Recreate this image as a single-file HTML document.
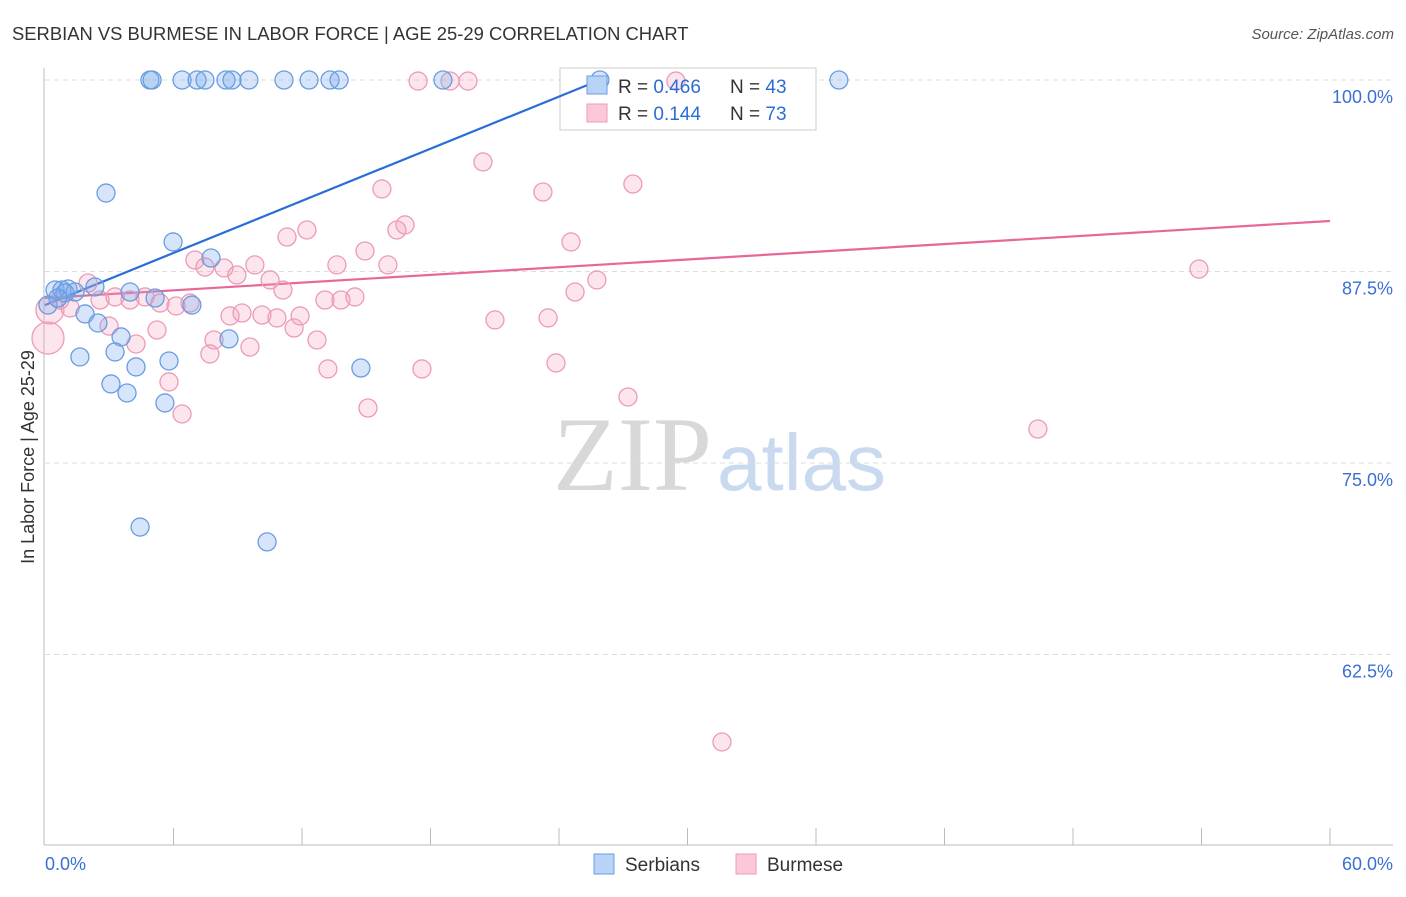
<!DOCTYPE html>
<html><head><meta charset="utf-8"><style>
body{margin:0;background:#fff;font-family:"Liberation Sans",sans-serif;}
svg text{font-family:"Liberation Sans",sans-serif;}
</style></head><body>
<svg id="chart" width="1406" height="892">
<text x="12" y="40" font-size="18.4" fill="#333">SERBIAN VS BURMESE IN LABOR FORCE | AGE 25-29 CORRELATION CHART</text>
<text x="1394" y="39" font-size="15" fill="#555" text-anchor="end" font-style="italic">Source: ZipAtlas.com</text>
<text x="0" y="0" font-size="18" fill="#333" text-anchor="middle" transform="translate(34,457) rotate(-90)">In Labor Force | Age 25-29</text>
<g>
<text x="553" y="490" font-size="106" fill="#d8d8d8" style="font-family:'Liberation Serif',serif">ZIP</text>
<text x="717" y="490" font-size="80" fill="#c9d9f0">atlas</text>
</g>
<g id="grid"></g><g id="axes"></g>
<g>
<rect x="560" y="68" width="256" height="62" fill="rgba(255,255,255,0.85)" stroke="#ccc"/>
</g>
<g id="trends"></g><g id="pts"></g>
<g>
<rect x="587" y="76" width="20" height="18" fill="#b8d3f5" stroke="#6a9de0"/>
<rect x="587" y="104" width="20" height="18" fill="#fbc8d8" stroke="#ec9bb6"/>
<text x="618" y="93" font-size="19" fill="#333">R = <tspan fill="#2a6dd6">0.466</tspan></text>
<text x="730" y="93" font-size="19" fill="#333">N = <tspan fill="#2a6dd6">43</tspan></text>
<text x="618" y="120" font-size="19" fill="#333">R = <tspan fill="#2a6dd6"> 0.144</tspan></text>
<text x="730" y="120" font-size="19" fill="#333">N = <tspan fill="#2a6dd6">73</tspan></text>
</g>
<g>
<rect x="594" y="854" width="20" height="20" fill="#b8d3f5" stroke="#6a9de0"/>
<text x="625" y="871" font-size="19" fill="#333">Serbians</text>
<rect x="736" y="854" width="20" height="20" fill="#fbc8d8" stroke="#ec9bb6"/>
<text x="767" y="871" font-size="19" fill="#333">Burmese</text>
</g>
</svg>
<script>
const yTicks=[100,87.5,75,62.5];
const yTickLabels=["100.0%","87.5%","75.0%","62.5%"];
const xLabels=["0.0%","60.0%"];
const serbX=[4.90,5.00,6.40,7.10,7.47,8.45,8.73,9.52,11.16,12.33,13.31,13.73,18.58,37.07,25.91,2.85,5.98,7.75,0.47,0.79,1.07,1.40,2.33,3.97,5.14,6.86,1.87,2.47,0.14,3.55,8.59,1.63,3.27,5.79,4.25,3.08,3.83,5.60,14.75,4.44,10.37,0.93,0.6];
const serbY=[100,100,100,100,100,100,100,100,100,100,100,100,100,100,100,92.62,89.43,88.38,86.29,86.29,86.36,86.16,86.49,86.16,85.77,85.31,84.73,84.14,85.31,83.23,83.10,81.92,82.25,81.66,81.27,80.16,79.57,78.92,81.20,70.82,69.85,86.1,85.77];
const burmX=[0.14,0.23,2.01,0.70,1.17,2.57,3.27,3.97,4.67,5.37,6.12,6.77,2.99,4.25,5.23,5.79,6.40,7.00,7.47,8.36,8.96,7.70,7.89,8.64,9.20,9.57,9.80,10.13,10.51,10.83,11.11,11.30,11.63,11.91,12.23,12.70,13.07,13.21,13.63,13.82,14.47,14.94,15.08,15.73,16.01,16.43,16.81,17.42,17.60,18.91,19.75,20.45,21.01,23.25,23.49,23.86,24.56,24.75,25.77,27.22,27.45,29.46,46.36,53.88,31.61];
const burmY=[83.16,84.99,86.75,85.64,85.12,85.64,85.84,85.64,85.84,85.44,85.25,85.44,83.94,82.77,83.68,80.29,78.20,88.25,87.79,87.73,87.27,82.12,83.03,84.60,84.79,82.57,87.93,84.66,86.95,84.47,86.29,89.75,83.81,84.60,90.21,83.03,85.64,81.14,87.93,85.64,85.84,88.84,78.59,92.89,87.93,90.21,90.54,99.93,81.14,99.93,99.93,94.65,84.34,92.69,84.47,81.53,89.43,86.16,86.95,79.31,93.21,99.93,77.22,87.66,56.79];
const burmR=[16,14];
const serbTrend=[85.31,0.567];
const burmTrend=[85.77,0.0838];
const X0=45,X1=1330,Y100=80,PX125=191.5;
const sx=v=>X0+(X1-X0)*v/60;
const sy=v=>Y100+(100-v)/12.5*PX125;
const NS="http://www.w3.org/2000/svg";
function mk(tag,attrs,parent){const e=document.createElementNS(NS,tag);for(const k in attrs)e.setAttribute(k,attrs[k]);document.getElementById(parent).appendChild(e);return e;}
yTicks.forEach((t,i)=>{
 const g=mk('line',{x1:45,x2:1393,y1:sy(t),y2:sy(t),stroke:'#ddd','stroke-dasharray':'5,4'},'grid');
 
 
 const tx=mk('text',{x:1393,y:sy(t)+23,'font-size':18,fill:'#3b6fd4','text-anchor':'end'},'grid');
 tx.textContent=yTickLabels[i];
 
 
});
let a=mk('line',{x1:44,x2:44,y1:68,y2:845,stroke:'#bbb'},'axes');


a=mk('line',{x1:44,x2:1393,y1:845,y2:845,stroke:'#bbb'},'axes');


for(let i=1;i<=10;i++){const t=mk('line',{x1:sx(i*6),x2:sx(i*6),y1:828,y2:845,stroke:'#bbb'},'axes');
 
 }
let l=mk('text',{x:45,y:870,'font-size':18,fill:'#3b6fd4'},'axes');l.textContent=xLabels[0];


l=mk('text',{x:1393,y:870,'font-size':18,fill:'#3b6fd4','text-anchor':'end'},'axes');l.textContent=xLabels[1];


burmX.forEach((x,i)=>{const c=mk('circle',{cx:sx(x),cy:sy(burmY[i]),r:burmR[i]||9,fill:'rgba(244,160,188,0.28)',stroke:'#ec9bb6','stroke-width':1.3},'pts');
 
 });
serbX.forEach((x,i)=>{const c=mk('circle',{cx:sx(x),cy:sy(serbY[i]),r:9,fill:'rgba(120,170,235,0.3)',stroke:'#6a9de0','stroke-width':1.3},'pts');
 
 });
const sEnd=(100-serbTrend[0])/serbTrend[1];
let tl=mk('line',{x1:sx(0),y1:sy(serbTrend[0]),x2:sx(sEnd),y2:sy(100),stroke:'#2a6dd6','stroke-width':2.2},'trends');


tl=mk('line',{x1:sx(0),y1:sy(burmTrend[0]),x2:sx(60),y2:sy(burmTrend[0]+60*burmTrend[1]),stroke:'#e8679a','stroke-width':2.2},'trends');


</script>
</body></html>
